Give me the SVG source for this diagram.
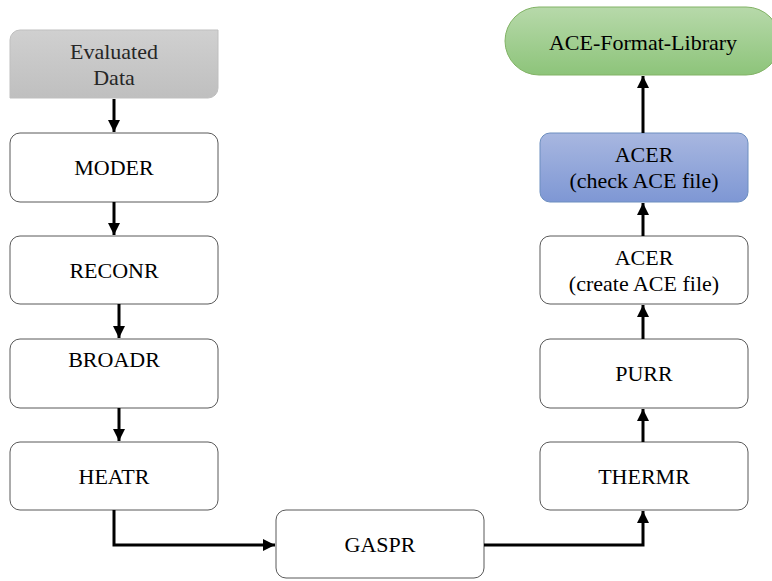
<svg xmlns="http://www.w3.org/2000/svg" width="772" height="581" viewBox="0 0 772 581">
<defs>
<linearGradient id="gGray" x1="0" y1="0" x2="0" y2="1"><stop offset="0" stop-color="#d0d0d0"/><stop offset="1" stop-color="#bfbfbf"/></linearGradient>
<linearGradient id="gBlue" x1="0" y1="0" x2="0" y2="1"><stop offset="0" stop-color="#a8b7e0"/><stop offset="1" stop-color="#7e97d4"/></linearGradient>
<linearGradient id="gGreen" x1="0" y1="0" x2="0" y2="1"><stop offset="0" stop-color="#b7d9aa"/><stop offset="1" stop-color="#8dc47a"/></linearGradient>
<marker id="ah" viewBox="0 0 10 10" refX="10" refY="5" markerWidth="4" markerHeight="4" orient="auto" markerUnits="strokeWidth"><path d="M0,0 L10,5 L0,10 z" fill="#000"/></marker>
<style>
.box{fill:#fff;stroke:#595959;stroke-width:1}
.t{font-family:'Liberation Serif','Times New Roman',Times,serif;font-size:22px;fill:#000;text-anchor:middle}
.c{fill:none;stroke:#000;stroke-width:3;marker-end:url(#ah)}
</style>
</defs>
<g id="evaluated">
<path d="M20,30 H218 V88 A10,10 0 0 1 208,98 H10 V40 A10,10 0 0 1 20,30 Z" fill="url(#gGray)" stroke="#bfbfbf" stroke-width="1"/>
<text class="t" x="114" y="59" style="fill:#262626">Evaluated</text>
<text class="t" x="114" y="85" style="fill:#262626">Data</text>
</g>
<g id="moder"><rect class="box" x="10" y="133" width="208" height="69" rx="10"/><text class="t" x="114" y="175">MODER</text></g>
<g id="reconr"><rect class="box" x="10" y="236" width="208" height="68" rx="10"/><text class="t" x="114" y="278">RECONR</text></g>
<g id="broadr"><rect class="box" x="10" y="339" width="208" height="69" rx="10"/><text class="t" x="114" y="367">BROADR</text></g>
<g id="heatr"><rect class="box" x="10" y="442" width="208" height="68" rx="10"/><text class="t" x="114" y="484">HEATR</text></g>
<g id="gaspr"><rect class="box" x="276" y="510" width="208" height="68" rx="10"/><text class="t" x="380" y="552">GASPR</text></g>
<g id="thermr"><rect class="box" x="540" y="442" width="208" height="68" rx="10"/><text class="t" x="644" y="484">THERMR</text></g>
<g id="purr"><rect class="box" x="540" y="339" width="208" height="69" rx="10"/><text class="t" x="644" y="381">PURR</text></g>
<g id="acer-create"><rect class="box" x="540" y="236" width="208" height="68" rx="10"/><text class="t" x="644" y="265">ACER</text><text class="t" x="644" y="291">(create ACE file)</text></g>
<g id="acer-check"><rect x="540" y="133" width="208" height="69" rx="10" fill="url(#gBlue)" stroke="#6c8ebf" stroke-width="1"/><text class="t" x="644" y="162">ACER</text><text class="t" x="644" y="188">(check ACE file)</text></g>
<g id="library"><rect x="505" y="7" width="275" height="68" rx="34" fill="url(#gGreen)" stroke="#82b366" stroke-width="1"/><text class="t" x="643" y="50">ACE-Format-Library</text></g>
<g id="connectors">
<path class="c" d="M114,99 V132"/>
<path class="c" d="M114,202 V235"/>
<path class="c" d="M119,304 V338"/>
<path class="c" d="M119,408 V441"/>
<path class="c" d="M114,510 V545 H275"/>
<path class="c" d="M484,545 H643 V511"/>
<path class="c" d="M643,442 V409"/>
<path class="c" d="M643,339 V305"/>
<path class="c" d="M643,236 V203"/>
<path class="c" d="M643,133 V76"/>
</g>
</svg>
